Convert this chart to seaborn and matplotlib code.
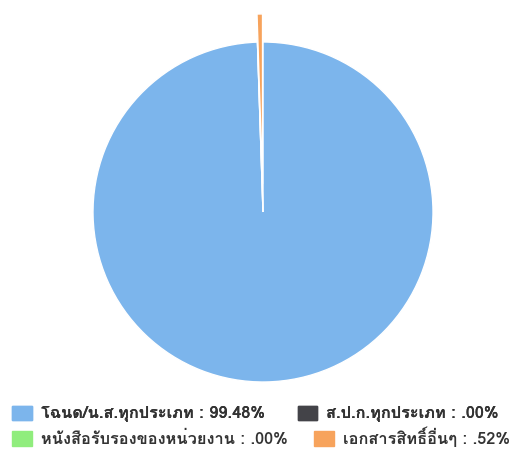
import matplotlib
matplotlib.use("Agg")
import matplotlib.pyplot as plt
from matplotlib import font_manager
from matplotlib.ft2font import FT2Font
import seaborn as sns

# data
labels = ["โฉนด/น.ส.ทุกประเภท", "ส.ป.ก.ทุกประเภท", "หนังสือรับรองของหน่วยงาน", "เอกสารสิทธิ์อื่นๆ"]
values = [99.48, 0.00, 0.00, 0.52]
value_text = ["99.48%", ".00%", ".00%", ".52%"]
colors = ["#7cb5ec", "#434348", "#90ed7d", "#f7a35c"]

sns.set_theme(style="white")

# pick a font with Thai glyphs (Loma if present)
names_avail = {f.name for f in font_manager.fontManager.ttflist}
thai_font = "Loma" if "Loma" in names_avail else None
if thai_font is None:
    for f in font_manager.fontManager.ttflist:
        try:
            if 0x0E01 in FT2Font(f.fname).get_charmap():
                thai_font = f.name
                break
        except Exception:
            pass
plt.rcParams["font.family"] = ([thai_font] if thai_font else []) + ["DejaVu Sans"]

fig = plt.figure(figsize=(5.18, 4.49), dpi=100)
ax = fig.add_axes([93 / 518, 1 - 382 / 449, 340 / 518, 340 / 449])

explode = [0, 0, 0, 0.165]
wedges, _ = ax.pie(values, colors=colors, startangle=90, counterclock=False,
                   explode=explode,
                   wedgeprops=dict(edgecolor="white", linewidth=1))
for w in wedges:
    w.set_clip_on(False)
ax.set_xlim(-1, 1)
ax.set_ylim(-1, 1)
ax.set_aspect("equal")
ax.axis("off")

names = [f"{l} : {v}" for l, v in zip(labels, value_text)]
handles = [plt.Rectangle((0, 0), 1, 1, color=c) for c in colors]

# legend rows laid out like the original (items flow, not aligned columns)
common = dict(ncol=2, loc="center left", frameon=False, handlelength=1.2,
              handleheight=1.0, handletextpad=0.55,
              borderpad=0, labelcolor="#333333",
              prop=dict(size=11.8, weight="bold"))
leg1 = fig.legend(handles[:2], names[:2], bbox_to_anchor=(4 / 518, 1 - 414 / 449),
                  columnspacing=2.0, **common)
fig.add_artist(leg1)
leg2 = fig.legend(handles[2:], names[2:], bbox_to_anchor=(4 / 518, 1 - 437 / 449),
                  columnspacing=1.6, **common)

fig.savefig("out.png", dpi=100)
